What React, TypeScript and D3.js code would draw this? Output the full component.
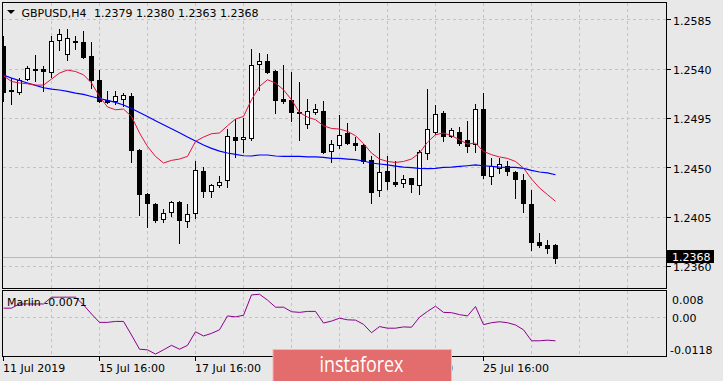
import React from "react";
import * as d3 from "d3";

const openP = [1.2561,1.2521,1.2519,1.2531,1.2540,1.2540,1.2537,1.2567,1.2554,1.2566,
1.2565,1.2552,1.2530,1.2512,1.2511,1.2513,1.2515,1.2466,1.2426,1.2417,
1.2403,1.2410,1.2419,1.2401,1.2409,1.2447,1.2429,1.2434,1.2439,1.2478,
1.2476,1.2477,1.2545,1.2547,1.2538,1.2513,1.2512,1.2501,1.2490,1.2501,
1.2502,1.2465,1.2471,1.2482,1.2473,1.2471,1.2457,1.2430,1.2447,1.2437,
1.2436,1.2441,1.2434,1.2463,1.2483,1.2500,1.2479,1.2483,1.2475,1.2472,
1.2504,1.2442,1.2450,1.2452,1.2446,1.2439,1.2417,1.2382,1.2379,1.2379];
const highP = [1.2570,1.2532,1.2532,1.2543,1.2553,1.2543,1.2570,1.2577,1.2577,1.2570,
1.2575,1.2565,1.2539,1.2520,1.2520,1.2518,1.2518,1.2467,1.2427,1.2418,
1.2412,1.2420,1.2420,1.2417,1.2456,1.2451,1.2435,1.2442,1.2485,1.2494,
1.2495,1.2558,1.2555,1.2554,1.2539,1.2544,1.2537,1.2528,1.2513,1.2508,
1.2511,1.2475,1.2498,1.2491,1.2478,1.2472,1.2461,1.2482,1.2461,1.2456,
1.2443,1.2441,1.2466,1.2522,1.2507,1.2502,1.2486,1.2487,1.2493,1.2508,
1.2518,1.2459,1.2459,1.2456,1.2447,1.2444,1.2430,1.2390,1.2384,1.2380];
const lowP = [1.2511,1.2508,1.2517,1.2530,1.2529,1.2520,1.2533,1.2557,1.2548,1.2558,
1.2550,1.2523,1.2510,1.2509,1.2508,1.2506,1.2455,1.2407,1.2396,1.2400,
1.2400,1.2406,1.2381,1.2396,1.2404,1.2423,1.2423,1.2432,1.2432,1.2460,
1.2464,1.2475,1.2521,1.2536,1.2500,1.2509,1.2493,1.2475,1.2486,1.2499,
1.2463,1.2455,1.2468,1.2472,1.2466,1.2454,1.2418,1.2424,1.2431,1.2433,
1.2432,1.2428,1.2426,1.2458,1.2481,1.2474,1.2478,1.2471,1.2464,1.2464,
1.2441,1.2435,1.2445,1.2443,1.2422,1.2410,1.2375,1.2378,1.2372,1.2363];
const closeP = [1.2519,1.2520,1.2530,1.2541,1.2539,1.2538,1.2566,1.2572,1.2568,1.2565,
1.2551,1.2530,1.2511,1.2510,1.2515,1.2516,1.2466,1.2426,1.2418,1.2402,
1.2409,1.2419,1.2402,1.2408,1.2448,1.2429,1.2434,1.2437,1.2479,1.2475,
1.2478,1.2544,1.2547,1.2537,1.2512,1.2511,1.2501,1.2500,1.2502,1.2504,
1.2464,1.2472,1.2480,1.2473,1.2471,1.2456,1.2428,1.2446,1.2438,1.2435,
1.2440,1.2435,1.2464,1.2485,1.2499,1.2479,1.2484,1.2473,1.2470,1.2504,
1.2443,1.2452,1.2453,1.2447,1.2440,1.2418,1.2382,1.2379,1.2377,1.2368];

const maFast = [1.25339,1.25287,1.25273,1.25266,1.25254,1.25254,1.25309,1.25364,1.25391,1.25378,
1.25348,1.25273,1.2515,1.25054,1.25029,1.25035,1.24968,1.24817,1.24694,1.24603,
1.24543,1.24567,1.24579,1.24603,1.2474,1.2478,1.2481,1.24817,1.24883,1.24944,
1.24968,1.2512,1.25242,1.25303,1.25273,1.25211,1.2512,1.25004,1.24962,1.24938,
1.24883,1.24858,1.24853,1.24831,1.24792,1.24719,1.24634,1.24579,1.24557,1.24548,
1.24557,1.24579,1.24634,1.24734,1.24801,1.24817,1.24792,1.24755,1.24716,1.24725,
1.24649,1.24619,1.24598,1.24585,1.24557,1.24497,1.24397,1.24315,1.24254,1.24193];

const maSlow = [1.25346,1.25318,1.25296,1.25273,1.25251,1.2523,1.25218,1.25209,1.25196,1.25181,
1.25169,1.2515,1.25132,1.25114,1.25096,1.25072,1.25041,1.25004,1.24968,1.24929,
1.24892,1.24856,1.24819,1.2478,1.24744,1.24707,1.24676,1.24652,1.24634,1.24621,
1.24609,1.24607,1.24616,1.24616,1.24607,1.24603,1.24603,1.24603,1.24598,1.24598,
1.24594,1.24585,1.24585,1.24579,1.24573,1.24561,1.24543,1.24534,1.24525,1.24515,
1.24506,1.245,1.24494,1.24491,1.24494,1.24503,1.24506,1.24512,1.24518,1.24525,
1.24518,1.24512,1.24506,1.24503,1.24503,1.24494,1.24475,1.24461,1.24452,1.24436];

const marlin = [0.0030,0.0030,0.0043,0.0043,0.0043,0.0043,0.0064,0.0064,0.0064,0.0064,
0.0040,0.0012,-0.0014,-0.0014,-0.0011,-0.0011,-0.0053,-0.0097,-0.0099,-0.0112,
-0.0099,-0.0085,-0.0097,-0.0085,-0.0043,-0.0056,-0.0048,-0.0037,0.0006,0.0003,
0.0008,0.0071,0.0073,0.0055,0.0033,0.0033,0.0019,0.0017,0.0020,0.0020,
-0.0016,-0.0010,-0.0001,-0.0006,-0.0007,-0.0020,-0.0046,-0.0027,-0.0032,-0.0032,
-0.0028,-0.0029,0.0002,0.0020,0.0036,0.0017,0.0016,0.0010,0.0006,0.0035,
-0.0021,-0.0015,-0.0012,-0.0015,-0.0022,-0.0037,-0.0071,-0.0071,-0.0069,-0.0071];

const priceTicks = [1.2585, 1.2540, 1.2495, 1.2450, 1.2405, 1.2360];
const priceTickLabels = ["1.2585", "1.2540", "1.2495", "1.2450", "1.2405", "1.2360"];
const timeIdx = [0, 12, 24, 36, 48, 60];
const timeLabels = ["11 Jul 2019", "15 Jul 16:00", "17 Jul 16:00", "19 Jul 16:00", "23 Jul 16:00", "25 Jul 16:00"];
const indTicks = [0.008, 0.0, -0.0118];
const indTickLabels = ["0.008", "0.00", "-0.0118"];
const headerSymbol = "GBPUSD,H4";
const headerOHLC = "1.2379 1.2380 1.2363 1.2368";
const lastPrice = 1.2368;
const lastPriceLabel = "1.2368";
const indName = "Marlin -0.0071";

const W = 723, H = 381;
const FONT = "'DejaVu Sans', Verdana, sans-serif";
const BG = "#E8E8E8";
const GRID = "#C2C2C2";

export default function App() {
  const n = closeP.length;
  const x = d3.scaleLinear().domain([0, n - 1]).range([3.5, 3.5 + 8 * (n - 1)]);
  const y = d3.scaleLinear().domain([1.2360, 1.2585]).range([266.3, 19.8]);
  const yi = d3.scaleLinear().domain([-0.0118, 0.008]).range([356, 292]);

  const left = 2.5, right = 666.5, mTop = 2.5, mBot = 288.5, iTop = 290.5, iBot = 356.5;

  const lineFast = d3.line<number>().x((_, i) => x(i)).y((d) => y(d));
  const lineInd = d3.line<number>().x((_, i) => x(i)).y((d) => yi(d));

  const vgrid: number[] = [];
  for (let i = 6; x(i) < right - 2; i += 6) vgrid.push(Math.floor(x(i)) + 0.5);

  const px = (v: number) => Math.floor(v) + 0.5;

  return (
    <svg width={W} height={H} style={{ position: "absolute", left: 0, top: 0, background: BG }} fontFamily={FONT}>
      <rect x={0} y={0} width={W} height={H} fill={BG} />
      <defs>
        <clipPath id="mainClip"><rect x={left} y={mTop} width={right - left} height={mBot - mTop} /></clipPath>
        <clipPath id="indClip"><rect x={left} y={iTop} width={right - left} height={iBot - iTop} /></clipPath>
      </defs>

      {/* grids */}
      <g stroke={GRID} strokeDasharray="3,3" shapeRendering="crispEdges">
        {priceTicks.map((t, k) => (
          <line key={"h" + k} x1={left} x2={right} y1={px(y(t))} y2={px(y(t))} />
        ))}
        {vgrid.map((gx, k) => (
          <line key={"v" + k} x1={gx} x2={gx} y1={mTop} y2={mBot} />
        ))}
        {vgrid.map((gx, k) => (
          <line key={"vi" + k} x1={gx} x2={gx} y1={iTop} y2={iBot} />
        ))}
        <line x1={left} x2={right} y1={px(yi(0))} y2={px(yi(0))} />
      </g>

      {/* last price line */}
      <line x1={left} x2={right} y1={px(y(lastPrice))} y2={px(y(lastPrice))} stroke="#B8B8B8" shapeRendering="crispEdges" />

      {/* candles */}
      <g clipPath="url(#mainClip)" shapeRendering="crispEdges">
        {closeP.map((c, i) => {
          const o = openP[i];
          const cx = x(i);
          const top = Math.round(y(Math.max(o, c)));
          const bot = Math.round(y(Math.min(o, c)));
          const bull = c > o;
          return (
            <g key={i}>
              <line x1={cx} x2={cx} y1={Math.round(y(highP[i]))} y2={Math.round(y(lowP[i])) + 1} stroke="#000" />
              {bull ? (
                <rect x={cx - 2} y={top + 0.5} width={4} height={Math.max(1, bot - top)} fill="#fff" stroke="#000" />
              ) : (
                <rect x={cx - 2.5} y={top} width={5} height={Math.max(1, bot - top + 1)} fill="#000" />
              )}
            </g>
          );
        })}
      </g>

      {/* moving averages */}
      <g clipPath="url(#mainClip)" fill="none">
        <path d={lineFast(maSlow) || ""} stroke="#0000FF" strokeWidth={1.2} />
        <path d={lineFast(maFast) || ""} stroke="#DC143C" strokeWidth={1} />
      </g>

      {/* indicator line */}
      <g clipPath="url(#indClip)">
        <path d={lineInd(marlin) || ""} fill="none" stroke="#8B008B" strokeWidth={1} />
      </g>

      {/* panel borders */}
      <g fill="none" stroke="#000" shapeRendering="crispEdges">
        <rect x={left} y={mTop} width={right - left} height={mBot - mTop} />
        <rect x={left} y={iTop} width={right - left} height={iBot - iTop} />
      </g>

      {/* header */}
      <polygon points="7,10 15,10 11,14" fill="#000" />
      <text x={21.5} y={17} fontSize={11} fill="#000">{headerSymbol}</text>
      <text x={94} y={17} fontSize={11} fill="#000">{headerOHLC}</text>
      <text x={7} y={306} fontSize={11} fill="#000">{indName}</text>

      {/* right price axis */}
      <g fontSize={11} fill="#000">
        {priceTicks.map((t, k) => (
          <g key={"p" + k}>
            <line x1={right} x2={right + 4} y1={px(y(t))} y2={px(y(t))} stroke="#000" shapeRendering="crispEdges" />
            <text x={673} y={y(t) + 5}>{priceTickLabels[k]}</text>
          </g>
        ))}
      </g>
      <rect x={667} y={y(lastPrice) - 7.5} width={47} height={13} fill="#000" />
      <text x={672} y={y(lastPrice) + 3.5} fontSize={11} fill="#fff">{lastPriceLabel}</text>

      {/* indicator axis */}
      <g fontSize={11} fill="#000">
        <text x={672} y={304}>{indTickLabels[0]}</text>
        <text x={672} y={yi(indTicks[1]) + 4.5}>{indTickLabels[1]}</text>
        <text x={670} y={354}>{indTickLabels[2]}</text>
      </g>

      {/* time axis */}
      <g fontSize={11} fill="#000">
        {timeIdx.map((ti, k) => (
          <g key={"t" + k}>
            <line x1={px(x(ti))} x2={px(x(ti))} y1={iBot} y2={iBot + 4} stroke="#000" shapeRendering="crispEdges" />
            <text x={x(ti) - 0.5} y={372}>{timeLabels[k]}</text>
          </g>
        ))}
      </g>

      {/* watermark */}
      <rect x={273} y={349.5} width={178.5} height={33} fill="#E36C6C" stroke="#F4B4B4" strokeWidth={1} />
      <text x={361.5} y={371.5} fontSize={21} fill="#fff" textAnchor="middle" fontFamily="'Open Sans', Roboto, sans-serif"
        textLength={84} lengthAdjust="spacingAndGlyphs">instaforex</text>
    </svg>
  );
}
